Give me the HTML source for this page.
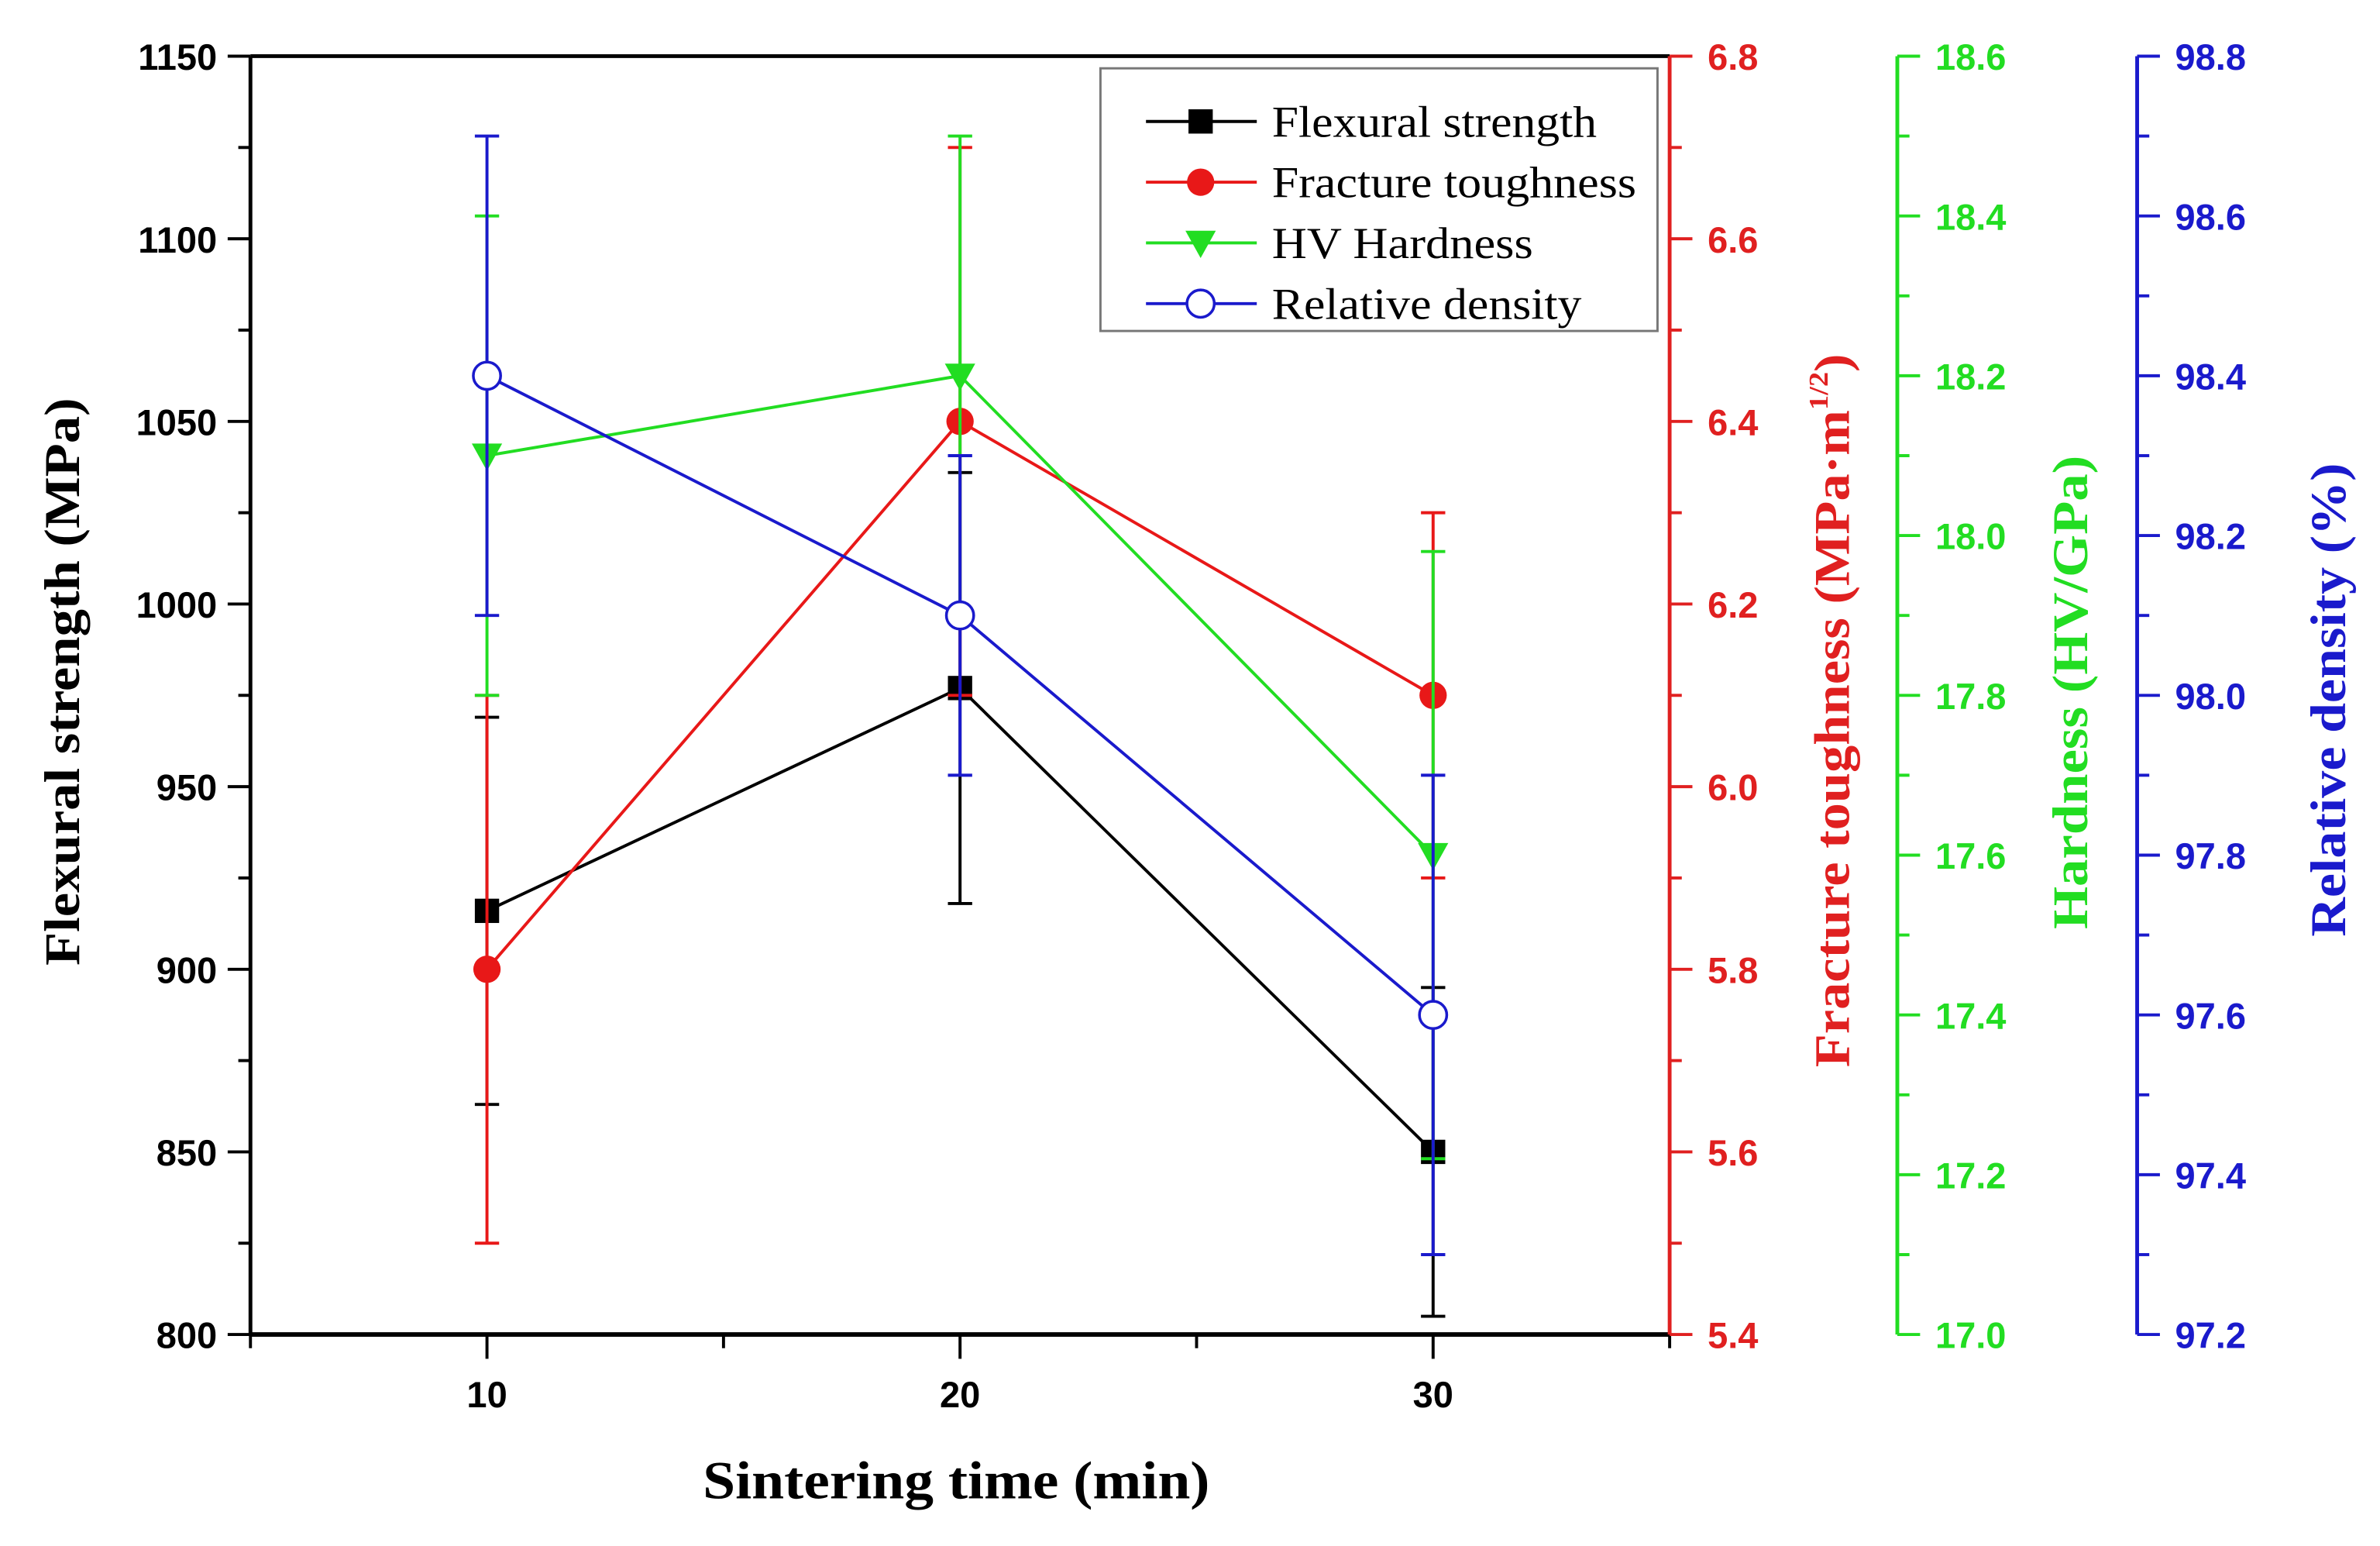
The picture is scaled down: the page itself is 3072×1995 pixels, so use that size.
<!DOCTYPE html>
<html><head><meta charset="utf-8"><style>html,body{margin:0;padding:0;background:#fff}svg{display:block}</style></head>
<body>
<svg id="chart" width="3072" height="1995" viewBox="0 0 1568 1018.3" preserveAspectRatio="none" xmlns="http://www.w3.org/2000/svg">
<g id="axes"></g><g id="series"></g>
<g>
<rect x="725" y="45" width="367" height="173" fill="#fff" stroke="#777" stroke-width="1.5"/>
<g id="legend"></g>
</g>
<text x="630" y="987" text-anchor="middle" font-family="Liberation Serif, serif" font-weight="bold" font-size="35" textLength="334" lengthAdjust="spacingAndGlyphs">Sintering time (min)</text>
<text transform="translate(52,449) rotate(-90)" text-anchor="middle" font-family="Liberation Serif, serif" font-weight="bold" font-size="33" textLength="374" lengthAdjust="spacingAndGlyphs">Flexural strength (MPa)</text>
<text transform="translate(1218,468) rotate(-90)" text-anchor="middle" font-family="Liberation Serif, serif" font-weight="bold" font-size="33" fill="#e02020" textLength="470" lengthAdjust="spacingAndGlyphs">Fracture toughness (MPa·m<tspan dy="-14" font-size="18">1/2</tspan><tspan dy="14">)</tspan></text>
<text transform="translate(1375,456) rotate(-90)" text-anchor="middle" font-family="Liberation Serif, serif" font-weight="bold" font-size="33" fill="#22dd22" textLength="312" lengthAdjust="spacingAndGlyphs">Hardness (HV/GPa)</text>
<text transform="translate(1545,461) rotate(-90)" text-anchor="middle" font-family="Liberation Serif, serif" font-weight="bold" font-size="33" fill="#1a1acc" textLength="312" lengthAdjust="spacingAndGlyphs">Relative density (%)</text>
</svg>
<script>
const times = [10, 20, 30];
const flexural = [916, 977, 850];
const flexuralErr = [53, 59, 45];
const toughness = [5.8, 6.4, 6.1];
const toughnessErr = [0.3, 0.3, 0.2];
const hardness = [18.1, 18.2, 17.6];
const hardnessErr = [0.3, 0.3, 0.38];
const density = [98.4, 98.1, 97.6];
const densityErr = [0.3, 0.2, 0.3];
const xTicks = [10, 20, 30];
const leftTicks = [800, 850, 900, 950, 1000, 1050, 1100, 1150];
const redTicks = ["5.4","5.6","5.8","6.0","6.2","6.4","6.6","6.8"];
const greenTicks = ["17.0","17.2","17.4","17.6","17.8","18.0","18.2","18.4","18.6"];
const blueTicks = ["97.2","97.4","97.6","97.8","98.0","98.2","98.4","98.6","98.8"];

const NS="http://www.w3.org/2000/svg";
const L=165,R=1100,T=37,B=879;
const xS=v=>L+(v-5)/30*(R-L);
const lin=(a,b)=>v=>B-(v-a)/(b-a)*(B-T);
const yL=lin(800,1150), yR=lin(5.4,6.8), yG=lin(17.0,18.6), yB=lin(97.2,98.8);
function mk(p,tag,at){const e=document.createElementNS(NS,tag);for(const k in at)e.setAttribute(k,at[k]);p.appendChild(e);return e;}
const axes=document.getElementById('axes'), ser=document.getElementById('series'), leg=document.getElementById('legend');
const tf='Liberation Sans, Arial, sans-serif';
let e;
e=mk(axes,'line',{x1:L,y1:T,x2:R,y2:T,stroke:'#000','stroke-width':2.5});

e=mk(axes,'line',{x1:L,y1:B,x2:R,y2:B,stroke:'#000','stroke-width':3});

e=mk(axes,'line',{x1:L,y1:T,x2:L,y2:B,stroke:'#000','stroke-width':2.5});

for(let v=5;v<=35;v+=5){const major=v%10===0;mk(axes,'line',{x1:xS(v),y1:B,x2:xS(v),y2:B+(major?16:9),stroke:'#000','stroke-width':2});}
xTicks.forEach(v=>{const t=mk(axes,'text',{x:xS(v),y:B+48,'text-anchor':'middle','font-family':tf,'font-weight':'bold','font-size':24});t.textContent=v;
});
leftTicks.forEach((v,i)=>{mk(axes,'line',{x1:L-15,y1:yL(v),x2:L,y2:yL(v),stroke:'#000','stroke-width':2});
 if(i<leftTicks.length-1)mk(axes,'line',{x1:L-8,y1:yL(v+25),x2:L,y2:yL(v+25),stroke:'#000','stroke-width':2});
 const t=mk(axes,'text',{x:L-22,y:yL(v)+9,'text-anchor':'end','font-family':tf,'font-weight':'bold','font-size':24});t.textContent=v;
 });
function rightAxis(x,ticks,ys,col,name,minorStep){
 e=mk(axes,'line',{x1:x,y1:T,x2:x,y2:B,stroke:col,'stroke-width':2.5});
 
 ticks.forEach((s,i)=>{const v=parseFloat(s);mk(axes,'line',{x1:x,y1:ys(v),x2:x+15,y2:ys(v),stroke:col,'stroke-width':2});
  if(i<ticks.length-1)mk(axes,'line',{x1:x,y1:ys(v+minorStep),x2:x+8,y2:ys(v+minorStep),stroke:col,'stroke-width':2});
  const t=mk(axes,'text',{x:x+25,y:ys(v)+9,'font-family':tf,'font-weight':'bold','font-size':24,fill:col});t.textContent=s;
  });
}
rightAxis(R,redTicks,yR,'#e02020','toughness',0.1);
rightAxis(1250,greenTicks,yG,'#22dd22','hardness',0.1);
rightAxis(1408,blueTicks,yB,'#1a1acc','density',0.1);
function marker(p,type,x,y,col){
 if(type==='sq')return mk(p,'rect',{x:x-8,y:y-8,width:16,height:16,fill:'#000'});
 if(type==='circ')return mk(p,'circle',{cx:x,cy:y,r:9,fill:col});
 if(type==='tri')return mk(p,'path',{d:`M${x-10},${y-8}L${x+10},${y-8}L${x},${y+10}Z`,fill:col});
 return mk(p,'circle',{cx:x,cy:y,r:9,fill:'#fff',stroke:col,'stroke-width':1.8});
}
const S=[
 {name:'flexural-strength',vals:flexural,err:flexuralErr,ys:yL,col:'#000',m:'sq',label:'Flexural strength',len:214},
 {name:'fracture-toughness',vals:toughness,err:toughnessErr,ys:yR,col:'#e81818',m:'circ',label:'Fracture toughness',len:240},
 {name:'hv-hardness',vals:hardness,err:hardnessErr,ys:yG,col:'#22dd22',m:'tri',label:'HV Hardness',len:172},
 {name:'relative-density',vals:density,err:densityErr,ys:yB,col:'#1a1acc',m:'open',label:'Relative density',len:204}];
S.forEach(s=>{
 const g=mk(ser,'g',{});
 
 times.forEach((t,i)=>{const x=xS(t),y1=s.ys(s.vals[i]+s.err[i]),y2=s.ys(s.vals[i]-s.err[i]);
  const eb=mk(g,'path',{d:`M${x},${y1}L${x},${y2}M${x-8},${y1}L${x+8},${y1}M${x-8},${y2}L${x+8},${y2}`,stroke:s.col,'stroke-width':2,fill:'none'});
  });
 const ln=mk(g,'polyline',{points:times.map((t,i)=>xS(t)+','+s.ys(s.vals[i])).join(' '),stroke:s.col,'stroke-width':2,fill:'none'});
 
 times.forEach((t,i)=>{const m=marker(g,s.m,xS(t),s.ys(s.vals[i]),s.col);
  });
});
S.forEach((s,i)=>{const y=80+i*40;
 const g=mk(leg,'g',{});
 
 mk(g,'line',{x1:755,y1:y,x2:828,y2:y,stroke:s.col,'stroke-width':2});
 marker(g,s.m,791,y,s.col);
 const t=mk(g,'text',{x:838,y:y+10,'font-family':'Liberation Serif, serif','font-size':29,textLength:s.len,lengthAdjust:'spacingAndGlyphs'});t.textContent=s.label;
});
</script>
</body></html>
